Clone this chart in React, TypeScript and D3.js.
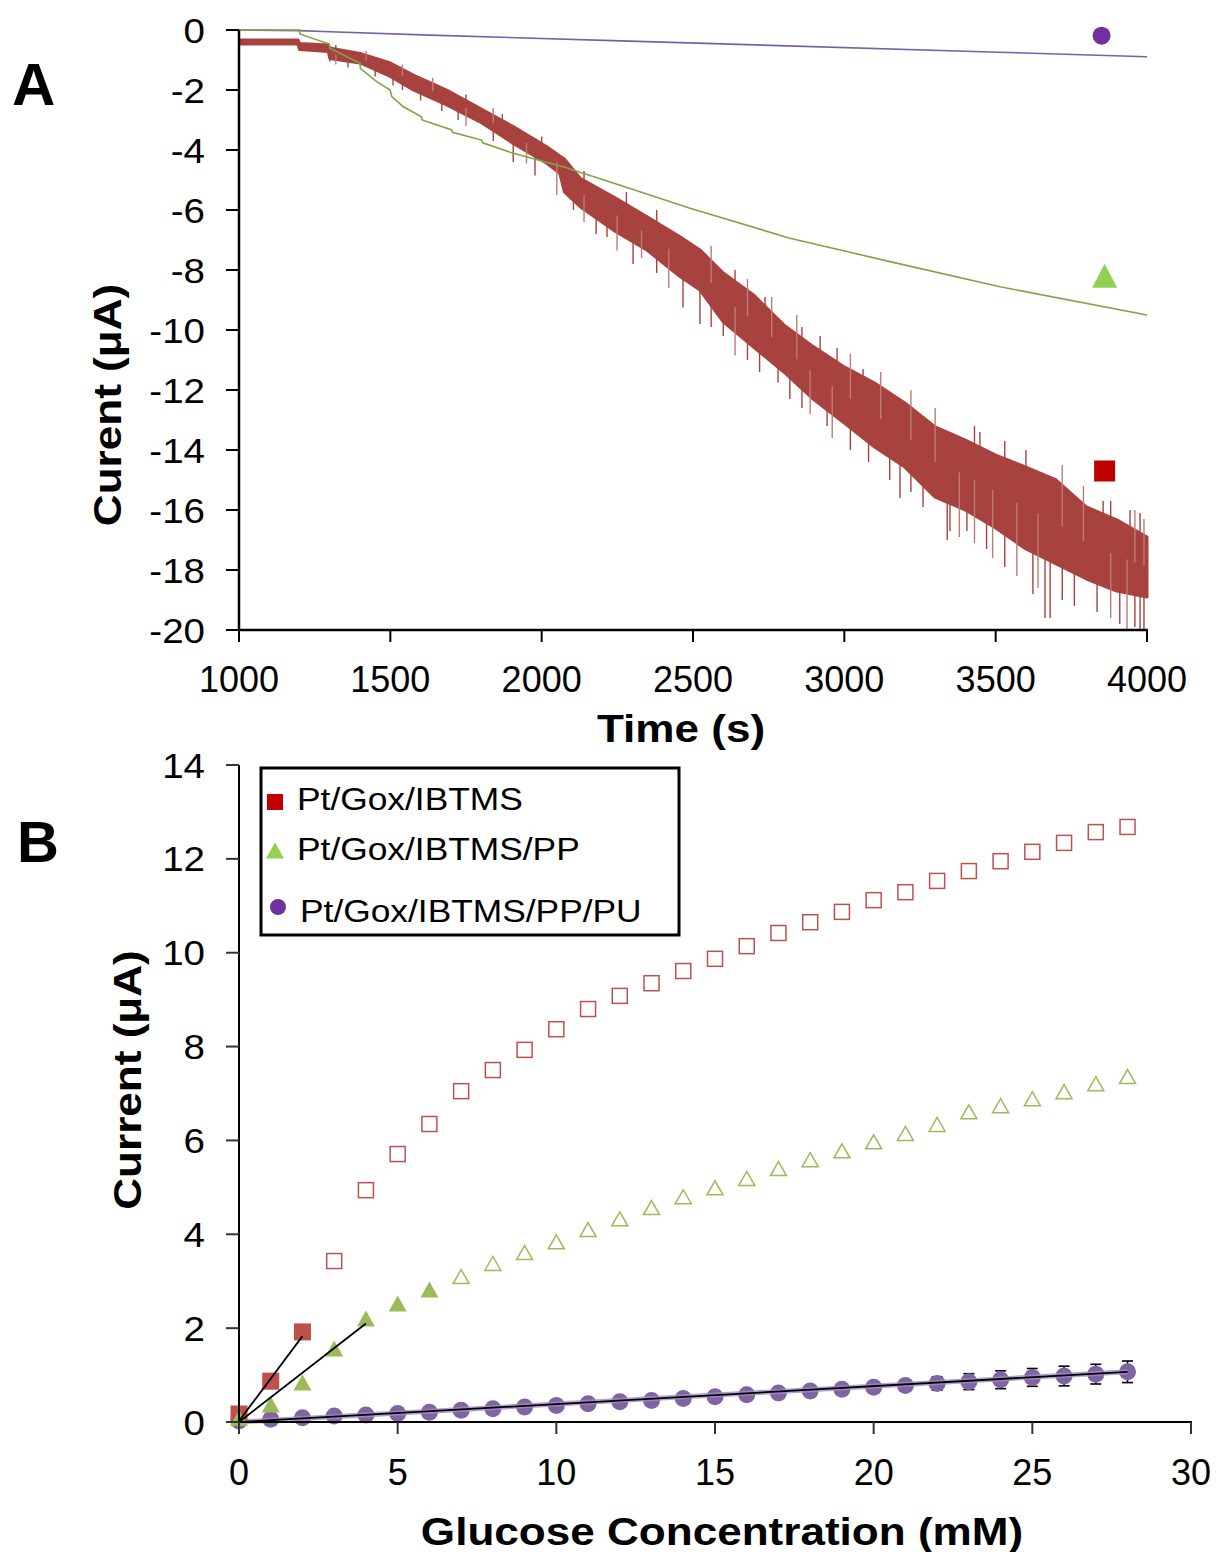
import React from "react";
import * as d3 from "d3";

// ---------- Panel A data ----------
const aXTicks = [1000, 1500, 2000, 2500, 3000, 3500, 4000];
const aYTicks = [0, -2, -4, -6, -8, -10, -12, -14, -16, -18, -20];

// Pt/Gox/IBTMS noisy trace: envelope (top / bottom of the dense band)
const redTime = [1000, 1195, 1200, 1295, 1300, 1400, 1500, 1576, 1686, 1796, 1906, 2017, 2060, 2075, 2127, 2237, 2347, 2457, 2523, 2600, 2700, 2800, 2900, 3000, 3100, 3200, 3300, 3400, 3500, 3600, 3700, 3800, 3900, 4000];
const redTop = [-0.33, -0.33, -0.45, -0.5, -0.6, -0.78, -1.1, -1.5, -2.0, -2.61, -3.22, -3.89, -4.2, -4.3, -4.94, -5.56, -6.22, -6.89, -7.33, -8.1, -8.83, -9.83, -10.57, -11.23, -11.77, -12.43, -13.23, -13.67, -14.17, -14.57, -15.0, -15.9, -16.33, -16.9];
const redBottom = [-0.47, -0.47, -0.65, -0.72, -0.95, -1.1, -1.55, -2.0, -2.5, -3.06, -3.78, -4.44, -4.78, -5.4, -5.89, -6.67, -7.33, -8.22, -8.67, -9.73, -10.57, -11.4, -12.33, -13.1, -13.9, -14.57, -15.57, -16.0, -16.6, -17.3, -17.8, -18.3, -18.7, -18.9];
// individual spikes: [time, tip value]
const redSpikes = [
  [1300, -1.05], [1320, -1.15], [1320, -0.5], [1360, -1.25], [1420, -0.7], [1450, -1.55],
  [1509, -1.85], [1540, -1.15], [1540, -2.0], [1600, -2.35], [1640, -1.6], [1670, -2.7],
  [1724, -3.0], [1750, -3.2], [1750, -2.15], [1840, -3.7], [1840, -2.6], [1870, -2.8],
  [1906, -4.4], [1950, -4.45], [1978, -4.85], [2000, -3.55], [2050, -5.5], [2105, -6.0],
  [2140, -4.7], [2140, -6.4], [2180, -6.8], [2216, -6.9], [2249, -7.35], [2280, -5.4],
  [2302, -7.8], [2330, -7.6], [2380, -6.0], [2380, -8.1], [2420, -8.6], [2467, -9.25],
  [2523, -9.8], [2560, -7.2], [2560, -9.9], [2600, -10.2], [2639, -10.85], [2639, -8.0],
  [2680, -11.0], [2680, -8.3], [2720, -11.4], [2738, -8.9], [2760, -8.9], [2781, -11.75],
  [2820, -12.3], [2843, -9.5], [2860, -12.6], [2860, -9.9], [2887, -12.8], [2920, -10.2],
  [2943, -13.2], [2960, -13.6], [2976, -10.6], [3020, -14.0], [3020, -10.8], [3062, -11.3],
  [3080, -14.4], [3120, -11.4], [3150, -15.0], [3184, -15.6], [3220, -12.0], [3220, -15.4],
  [3260, -15.9], [3300, -12.6], [3340, -17.0], [3349, -16.7], [3380, -16.9], [3405, -16.7],
  [3430, -13.2], [3430, -17.1], [3448, -13.4], [3470, -17.3], [3490, -17.6], [3530, -13.7],
  [3530, -17.9], [3570, -18.2], [3600, -14.0], [3623, -18.8], [3640, -18.6], [3663, -19.6],
  [3680, -19.6], [3720, -14.5], [3720, -19.0], [3760, -19.2], [3790, -15.2], [3835, -19.4],
  [3855, -15.7], [3880, -19.6], [3880, -15.7], [3910, -19.8], [3934, -20.0], [3944, -16.0],
  [3960, -19.9], [3960, -16.0], [3977, -20.0], [3977, -16.1], [3990, -16.3], [3990, -20.0],
];

const greenTime = [1000, 1200, 1201, 1298, 1300, 1400, 1401, 1455, 1499, 1505, 1543, 1603, 1605, 1703, 1705, 1802, 1805, 1906, 2071, 2292, 2490, 2820, 3151, 3514, 4000];
const greenVal = [0, 0, -0.13, -0.47, -0.61, -1.11, -1.28, -1.72, -2.0, -2.22, -2.56, -2.89, -3.0, -3.33, -3.41, -3.67, -3.76, -4.11, -4.56, -5.28, -5.94, -6.94, -7.72, -8.56, -9.5];

const purpleTime = [1000, 1200, 1300, 1630, 2290, 3510, 4000];
const purpleVal = [0, -0.02, -0.06, -0.17, -0.37, -0.74, -0.89];

const aMarkers = [
  { t: 3850, v: -0.19, shape: "circle", color: "#7030a0" },
  { t: 3860, v: -8.27, shape: "triangle", color: "#92d050" },
  { t: 3860, v: -14.7, shape: "square", color: "#c00000" },
];

// ---------- Panel B data ----------
const bXTicks = [0, 5, 10, 15, 20, 25, 30];
const bYTicks = [0, 2, 4, 6, 8, 10, 12, 14];
const conc = d3.range(0, 29);
const redB = [0.17, 0.87, 1.92, 3.43, 4.94, 5.71, 6.35, 7.05, 7.5, 7.93, 8.37, 8.8, 9.08, 9.35, 9.61, 9.87, 10.14, 10.42, 10.65, 10.87, 11.12, 11.29, 11.53, 11.74, 11.95, 12.15, 12.34, 12.57, 12.68];
const greenB = [0.05, 0.34, 0.81, 1.53, 2.17, 2.49, 2.79, 3.07, 3.35, 3.58, 3.81, 4.07, 4.3, 4.54, 4.77, 4.96, 5.16, 5.37, 5.56, 5.75, 5.94, 6.12, 6.31, 6.58, 6.71, 6.86, 7.01, 7.18, 7.33];
const purpleB = [0.02, 0.06, 0.09, 0.13, 0.15, 0.18, 0.21, 0.25, 0.28, 0.32, 0.35, 0.39, 0.43, 0.46, 0.5, 0.54, 0.58, 0.62, 0.66, 0.7, 0.74, 0.78, 0.82, 0.86, 0.9, 0.95, 0.98, 1.02, 1.07];
const purpleErr = [0.02, 0.02, 0.03, 0.03, 0.03, 0.04, 0.04, 0.04, 0.05, 0.05, 0.05, 0.06, 0.06, 0.07, 0.07, 0.08, 0.08, 0.09, 0.09, 0.1, 0.1, 0.12, 0.14, 0.17, 0.19, 0.19, 0.21, 0.21, 0.23];
const redFilledCount = 3;
const greenFilledCount = 7;
// linear fits: [x0, y0, x1, y1]
const fitRed = [0, 0.02, 2, 1.83];
const fitGreen = [0, 0.0, 4, 2.1];
const fitPurple = [0, 0.0, 28, 1.07];

const legendItems = [
  { label: "Pt/Gox/IBTMS", shape: "square", color: "#c00000" },
  { label: "Pt/Gox/IBTMS/PP", shape: "triangle", color: "#92d050" },
  { label: "Pt/Gox/IBTMS/PP/PU", shape: "circle", color: "#7030a0" },
];

const FONT = "'Liberation Sans', Arial, Helvetica, sans-serif";

function tri(cx: number, cy: number, w: number, h: number) {
  return `M${cx},${cy - h * 0.6}L${cx + w / 2},${cy + h * 0.4}L${cx - w / 2},${cy + h * 0.4}Z`;
}

export default function App() {
  // Panel A scales
  const xA = d3.scaleLinear().domain([1000, 4000]).range([239, 1147]);
  const yA = d3.scaleLinear().domain([0, -20]).range([30, 630]);
  // Panel B scales
  const xB = d3.scaleLinear().domain([0, 30]).range([239, 1191]);
  const yB = d3.scaleLinear().domain([0, 14]).range([1422, 765]);

  // band centre (piecewise-linear through the envelope) used as spike base
  const redMid = d3
    .scaleLinear()
    .domain(redTime)
    .range(redTime.map((_, i) => (redTop[i] + redBottom[i]) / 2));

  const redArea = d3
    .area<number>()
    .x((i) => xA(redTime[i]))
    .y0((i) => yA(redBottom[i]))
    .y1((i) => yA(redTop[i]))(d3.range(redTime.length));
  const greenLine = d3
    .line<number>()
    .x((i) => xA(greenTime[i]))
    .y((i) => yA(greenVal[i]))(d3.range(greenTime.length));
  const purpleLine = d3
    .line<number>()
    .x((i) => xA(purpleTime[i]))
    .y((i) => yA(purpleVal[i]))(d3.range(purpleTime.length));

  const tickFont = 36;
  const boldSize = 38;
  const boldSx = 1.16;

  return (
    <svg width={1218} height={1552} style={{ position: "absolute", left: 0, top: 0, display: "block", background: "#fff" }} fontFamily={FONT}>
      <defs>
        <clipPath id="clipA">
          <rect x={239} y={20} width={912} height={611} />
        </clipPath>
      </defs>
      {/* ================= Panel A ================= */}
      <text x={12} y={105} fontSize={60} fontWeight="bold">A</text>
      <g clipPath="url(#clipA)">
        <path d={purpleLine ?? ""} fill="none" stroke="#7b5ea7" strokeWidth={1.6} />
        <path d={redArea ?? ""} fill="#a8423f" stroke="#a8423f" strokeWidth={3} strokeLinejoin="round" />
        {redSpikes.map((s, i) => (
          <line key={i} x1={xA(s[0])} x2={xA(s[0])} y1={yA(redMid(s[0]))} y2={yA(s[1])} stroke={i % 3 === 1 ? "#c07a78" : "#a8423f"} strokeWidth={1.4} />
        ))}
        <path d={greenLine ?? ""} fill="none" stroke="#7fa544" strokeWidth={1.6} />
      </g>
      {aMarkers.map((m, i) => {
        const cx = xA(m.t), cy = yA(m.v);
        if (m.shape === "circle") return <circle key={i} cx={cx} cy={cy} r={9} fill={m.color} />;
        if (m.shape === "triangle") return <path key={i} d={tri(cx, cy, 25, 24)} fill={m.color} />;
        return <rect key={i} x={cx - 10.5} y={cy - 10.5} width={21} height={21} fill={m.color} />;
      })}
      {/* axes A */}
      <line x1={239} x2={239} y1={30} y2={631} stroke="#000" strokeWidth={2.5} />
      <line x1={238} x2={1148} y1={630} y2={630} stroke="#000" strokeWidth={2.5} />
      {aYTicks.map((v) => (
        <g key={v}>
          <line x1={226} x2={239} y1={yA(v)} y2={yA(v)} stroke="#000" strokeWidth={2} />
          <text transform={`translate(205,${yA(v) + 12.5}) scale(1.1,1)`} textAnchor="end" fontSize={35}>{String(v)}</text>
        </g>
      ))}
      {aXTicks.map((v) => (
        <g key={v}>
          <line x1={xA(v)} x2={xA(v)} y1={630} y2={642} stroke="#000" strokeWidth={2} />
          <text x={xA(v)} y={692} textAnchor="middle" fontSize={tickFont}>{String(v)}</text>
        </g>
      ))}
      <text transform={`translate(681,742) scale(${boldSx},1)`} textAnchor="middle" fontSize={boldSize} fontWeight="bold">Time (s)</text>
      <text transform={`translate(121,405) rotate(-90) scale(${boldSx},1)`} textAnchor="middle" fontSize={boldSize} fontWeight="bold">Curent (μA)</text>

      {/* ================= Panel B ================= */}
      <text x={17} y={862} fontSize={58} fontWeight="bold">B</text>
      {/* purple error bars (under the markers) */}
      {conc.map((c, i) => (
        <g key={"e" + i} stroke="#000" strokeWidth={1.6}>
          <line x1={xB(c)} x2={xB(c)} y1={yB(purpleB[i] + purpleErr[i])} y2={yB(purpleB[i] - purpleErr[i])} />
          <line x1={xB(c) - 5.5} x2={xB(c) + 5.5} y1={yB(purpleB[i] + purpleErr[i])} y2={yB(purpleB[i] + purpleErr[i])} />
          <line x1={xB(c) - 5.5} x2={xB(c) + 5.5} y1={yB(purpleB[i] - purpleErr[i])} y2={yB(purpleB[i] - purpleErr[i])} />
        </g>
      ))}
      {conc.map((c, i) => (
        <circle key={"p" + i} cx={xB(c)} cy={yB(purpleB[i])} r={8.5} fill="#8064a2" />
      ))}
      <line x1={xB(fitPurple[0])} y1={yB(fitPurple[1])} x2={xB(fitPurple[2])} y2={yB(fitPurple[3])} stroke="#a08cc4" strokeOpacity={0.8} strokeWidth={5} />
      <line x1={xB(fitPurple[0])} y1={yB(fitPurple[1])} x2={xB(fitPurple[2])} y2={yB(fitPurple[3])} stroke="#000" strokeWidth={1.8} />
      {/* red squares */}
      {conc.map((c, i) =>
        i < redFilledCount ? (
          <rect key={"r" + i} x={xB(c) - 8.5} y={yB(redB[i]) - 8.5} width={17} height={17} fill="#c0504d" />
        ) : (
          <rect key={"r" + i} x={xB(c) - 7.5} y={yB(redB[i]) - 7.5} width={15} height={15} fill="none" stroke="#c0504d" strokeWidth={1.5} />
        )
      )}
      {/* green triangles */}
      {conc.map((c, i) =>
        i < greenFilledCount ? (
          <path key={"g" + i} d={tri(xB(c), yB(greenB[i]), 18, 16)} fill="#9bbb59" />
        ) : (
          <path key={"g" + i} d={tri(xB(c), yB(greenB[i]), 16, 14)} fill="none" stroke="#9bbb59" strokeWidth={1.5} />
        )
      )}
      <line x1={xB(fitRed[0])} y1={yB(fitRed[1])} x2={xB(fitRed[2])} y2={yB(fitRed[3])} stroke="#000" strokeWidth={1.8} />
      <line x1={xB(fitGreen[0])} y1={yB(fitGreen[1])} x2={xB(fitGreen[2])} y2={yB(fitGreen[3])} stroke="#000" strokeWidth={1.8} />
      {/* axes B */}
      <line x1={239} x2={239} y1={765} y2={1423} stroke="#000" strokeWidth={2} />
      <line x1={238} x2={1192} y1={1422} y2={1422} stroke="#000" strokeWidth={2} />
      {bYTicks.map((v) => (
        <g key={v}>
          <line x1={226} x2={239} y1={yB(v)} y2={yB(v)} stroke="#333" strokeWidth={2} />
          <text transform={`translate(205,${yB(v) + 12.5}) scale(1.1,1)`} textAnchor="end" fontSize={35}>{String(v)}</text>
        </g>
      ))}
      {bXTicks.map((v) => (
        <g key={v}>
          <line x1={xB(v)} x2={xB(v)} y1={1422} y2={1434} stroke="#333" strokeWidth={2} />
          <text x={xB(v)} y={1485} textAnchor="middle" fontSize={tickFont}>{String(v)}</text>
        </g>
      ))}
      <text transform={`translate(722,1545) scale(${boldSx},1)`} textAnchor="middle" fontSize={boldSize} fontWeight="bold">Glucose Concentration (mM)</text>
      <text transform={`translate(141,1080) rotate(-90) scale(${boldSx},1)`} textAnchor="middle" fontSize={boldSize} fontWeight="bold">Current (μA)</text>

      {/* legend */}
      <rect x={261} y={768} width={418} height={167} fill="#fff" stroke="#000" strokeWidth={3} />
      {legendItems.map((it, i) => {
        const cy = [802, 852, 907][i];
        const tx = [297, 297, 300][i];
        const ty = [810, 860, 922][i];
        return (
          <g key={it.label}>
            {it.shape === "square" && <rect x={267} y={cy - 8} width={16} height={16} fill={it.color} />}
            {it.shape === "triangle" && <path d={tri(275, cy, 18, 16)} fill={it.color} />}
            {it.shape === "circle" && <circle cx={278} cy={cy} r={8} fill={it.color} />}
            <text transform={`translate(${tx},${ty}) scale(1.14,1)`} fontSize={31}>{it.label}</text>
          </g>
        );
      })}
    </svg>
  );
}
